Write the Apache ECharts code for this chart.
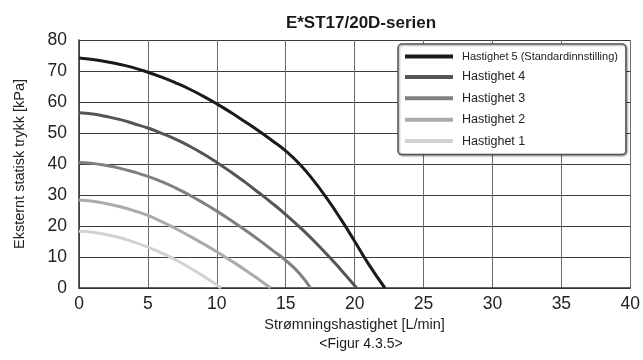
<!DOCTYPE html>
<html><head><meta charset="utf-8">
<script src="https://cdn.jsdelivr.net/npm/echarts@6/dist/echarts.min.js"></script>
<style>html,body{margin:0;padding:0;background:#fff}#c{width:643px;height:360px}</style>
</head><body><div id="c"></div>
<script>
var seriesNames = ['Hastighet 5 (Standardinnstilling)','Hastighet 4','Hastighet 3','Hastighet 2','Hastighet 1'];
var x5 = [0, 1, 2, 3, 4, 5, 6, 7, 8, 9, 10, 11, 12, 13, 14, 15, 16, 17, 18, 19, 20, 21, 22.2];
var y5 = [74.2, 73.7, 73.0, 72.1, 71.0, 69.6, 68.0, 66.2, 64.2, 61.9, 59.4, 56.7, 53.8, 50.8, 47.6, 44.2, 40.0, 34.8, 28.8, 22.2, 15.1, 7.8, 0];
var x4 = [0, 1, 2, 3, 4, 5, 6, 7, 8, 9, 10, 11, 12, 13, 14, 15, 16, 17, 18, 19, 20.15];
var y4 = [56.5, 56.1, 55.3, 54.3, 53.0, 51.6, 49.9, 48.0, 45.8, 43.3, 40.5, 37.5, 34.3, 30.9, 27.4, 23.7, 19.7, 15.4, 10.8, 5.9, 0];
var x3 = [0, 1, 2, 3, 4, 5, 6, 7, 8, 9, 10, 11, 12, 13, 14, 15, 16, 16.8];
var y3 = [40.5, 40.2, 39.5, 38.6, 37.4, 36.0, 34.3, 32.3, 30.0, 27.5, 24.8, 21.9, 18.9, 15.7, 12.3, 8.9, 4.7, 0];
var x2 = [0, 1, 2, 3, 4, 5, 6, 7, 8, 9, 10, 11, 12, 13, 13.9];
var y2 = [28.4, 28.0, 27.2, 26.2, 24.9, 23.4, 21.4, 19.2, 16.8, 14.3, 11.7, 8.9, 6.0, 2.9, 0];
var x1 = [0, 1, 2, 3, 4, 5, 6, 7, 8, 9, 10, 10.3];
var y1 = [18.3, 18.0, 17.2, 16.2, 14.8, 13.2, 11.3, 9.1, 6.6, 3.9, 1.0, 0];
var colors = ['#1a1a1a', '#555555', '#808080', '#ababab', '#d2d2d2'];
var xs = [x5, x4, x3, x2, x1], ys = [y5, y4, y3, y2, y1];
function pairs(a, b){ return a.map(function(v,i){ return [v, b[i]]; }); }
var FONT = 'Liberation Sans, Arial, sans-serif';
var chart = echarts.init(document.getElementById('c'), null, {renderer:'canvas'});
chart.setOption({
  animation: false,
  textStyle: {fontFamily: FONT},
  title: [
    {text: 'E*ST17/20D-serien', left: 356, textAlign: 'center', top: 10,
     textStyle: {fontFamily: FONT, fontSize: 17, fontWeight: 'bold', color: '#1a1a1a'}},
    {text: '<Figur 4.3.5>', left: 356, textAlign: 'center', top: 332,
     textStyle: {fontFamily: FONT, fontSize: 14, fontWeight: 'normal', color: '#1a1a1a'}}
  ],
  grid: {left: 79, right: 10, top: 40, bottom: 72, containLabel: false},
  legend: {
    orient: 'vertical', left: 398, top: 44, width: 229,
    padding: [7, 8, 7, 7],
    itemWidth: 48, itemHeight: 4, itemGap: 8.4, icon: 'rect',
    backgroundColor: '#fff', borderColor: '#555', borderWidth: 1.5, borderRadius: 4,
    shadowColor: 'rgba(0,0,0,0.35)', shadowBlur: 2, shadowOffsetX: 1, shadowOffsetY: 1,
    data: seriesNames,
    formatter: function(n){ return n === seriesNames[0] ? '{s|' + n + '}' : n; },
    textStyle: {fontFamily: FONT, fontSize: 12.5, color: '#222', padding: [0,0,0,4],
      rich: {s: {fontFamily: FONT, fontSize: 11, color: '#222'}}}
  },
  xAxis: {
    type: 'value', min: 0, max: 40, interval: 5,
    name: 'Strømningshastighet [L/min]', nameLocation: 'middle', nameGap: 28,
    nameTextStyle: {fontFamily: FONT, fontSize: 14.5, color: '#222'},
    axisLine: {lineStyle: {color: '#333', width: 1.5}},
    axisTick: {show: false},
    axisLabel: {fontFamily: FONT, fontSize: 17.5, color: '#222', margin: 7},
    splitLine: {show: true, lineStyle: {color: '#6a6a6a', width: 1}}
  },
  yAxis: {
    type: 'value', min: 0, max: 80, interval: 10,
    name: 'Eksternt statisk trykk [kPa]', nameLocation: 'middle', nameGap: 52,
    nameTextStyle: {fontFamily: FONT, fontSize: 14.5, color: '#222'},
    axisLine: {show: true, lineStyle: {color: '#333', width: 1.5}},
    axisTick: {show: false},
    axisLabel: {fontFamily: FONT, fontSize: 17.5, color: '#222', margin: 12},
    splitLine: {show: true, lineStyle: {color: '#3a3a3a', width: 1}}
  },
  series: seriesNames.map(function(n, i){
    return {name: n, type: 'line', smooth: 0.5, showSymbol: false, symbol: 'none',
      data: pairs(xs[i], ys[i]), color: colors[i],
      lineStyle: {color: colors[i], width: 3}, z: 10 - i};
  })
});
</script></body></html>
